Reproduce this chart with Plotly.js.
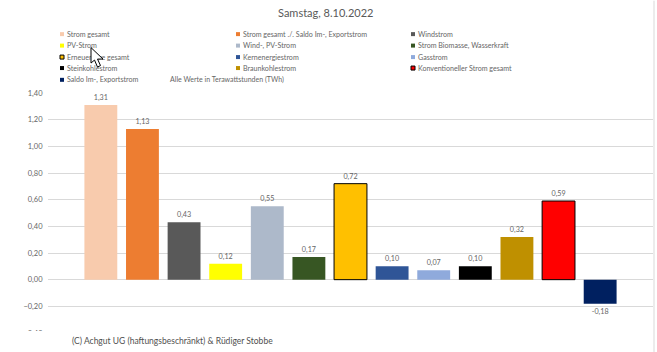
<!DOCTYPE html>
<html>
<head>
<meta charset="utf-8">
<script src="https://cdn.plot.ly/plotly-3.0.1.min.js"></script>
<style>html,body{margin:0;padding:0;background:#fff;overflow:hidden}#c{width:657px;height:352px}</style>
</head>
<body>
<div id="c"></div>
<script>
const categories = ["Strom gesamt","Strom gesamt ./. Saldo Im-, Exportstrom","Windstrom","PV-Strom","Wind-, PV-Strom","Strom Biomasse, Wasserkraft","Erneuerbare gesamt","Kernenergiestrom","Gasstrom","Steinkohlestrom","Braunkohlestrom","Konventioneller Strom gesamt","Saldo Im-, Exportstrom"];
const values = [1.31,1.13,0.43,0.12,0.55,0.17,0.72,0.10,0.07,0.10,0.32,0.59,-0.18];
const colors = ["#F8CBAD","#ED7D31","#595959","#FFFF00","#ADB9CA","#375623","#FFC000","#2F5597","#8FAADC","#000000","#BF9000","#FF0000","#002060"];
const outlined = [false,false,false,false,false,false,true,false,false,false,false,true,false];

const W=657,H=352,ML=48,MR=4,MT=92.5,MB=19;
const font="Lato, 'Open Sans', sans-serif";
const fx=x=>(x-ML)/(W-ML-MR), fy=y=>1-(y-MT)/(H-MT-MB);
const annotation=(x,y,text,size,color,anchor)=>({xref:'paper',yref:'paper',x:fx(x),y:fy(y),text,showarrow:false,xanchor:anchor||'left',yanchor:'middle',font:{family:font,size,color},borderpad:0,align:'left'});

const legendCols=[60,236,411], legendRows=[33.5,45,56.5,67.5,79.3];
const annotations=[], shapes=[];
categories.forEach((c,i)=>{
  const cx=legendCols[i%3], cy=legendRows[Math.floor(i/3)];
  shapes.push({type:'rect',xref:'paper',yref:'paper',x0:fx(cx),x1:fx(cx+4),y0:fy(cy+2),y1:fy(cy-2),fillcolor:colors[i],
    line:{color:'#000',width:outlined[i]?1:0}});
  annotations.push(annotation(cx+5.5,cy,c,7.1,'#666666'));
});
annotations.push(annotation(169,79.3,"Alle Werte in Terawattstunden (TWh)",7,'#666666'));
annotations.push(annotation(325.5,11.5,"Samstag, 8.10.2022",11,'#595959','center'));
annotations.push(annotation(71,341,"(C) Achgut UG (haftungsbeschränkt) &amp; Rüdiger Stobbe",8.5,'#505050'));

// white box that hides the lower left of the chart, and the window edge on the right
shapes.push({type:'rect',xref:'paper',yref:'paper',x0:fx(0),x1:fx(380),y0:fy(352),y1:fy(331),fillcolor:'#fff',line:{width:0},layer:'above'});
shapes.push({type:'line',xref:'paper',yref:'paper',x0:fx(654),x1:fx(654),y0:fy(0),y1:fy(352),line:{color:'#d9d9d9',width:1}});
// mouse pointer
const cur=[[91,47],[91,62.5],[94.5,59.5],[97.5,66.5],[100.5,65],[97.5,58.5],[103,58.5]];
shapes.push({type:'path',xref:'paper',yref:'paper',path:cur.map((p,i)=>(i?'L':'M')+fx(p[0])+','+fy(p[1])).join('')+'Z',fillcolor:'#fff',line:{color:'#000',width:1},layer:'above'});

Plotly.newPlot('c',[{
  type:'bar',x:categories,y:values,
  marker:{color:colors,line:{color:outlined.map(o=>o?'#000':'rgba(0,0,0,0)'),width:outlined.map(o=>o?1:0)}},
  texttemplate:'%{y:.2f}',textposition:'outside',cliponaxis:false,
  textfont:{family:font,size:7.2,color:'#666666'},hoverinfo:'skip'
}],{
  width:W,height:H,margin:{l:ML,r:MR,t:MT,b:MB,pad:0},
  paper_bgcolor:'#fff',plot_bgcolor:'#fff',showlegend:false,separators:',.',
  bargap:0.21,
  xaxis:{type:'category',range:[-1.27,13.27],showticklabels:false,showgrid:false,zeroline:false,ticks:''},
  yaxis:{range:[-0.4,1.4],tick0:-0.4,dtick:0.2,tickformat:'.2f',gridcolor:'#d9d9d9',gridwidth:1,zeroline:true,zerolinecolor:'#d9d9d9',zerolinewidth:1,
    ticks:'outside',ticklen:3,tickcolor:'rgba(0,0,0,0)',tickfont:{family:font,size:7.5,color:'#666666'},automargin:false},
  annotations,shapes
},{displayModeBar:false,staticPlot:true}).then(()=>{
  // the pointer sits on top of the legend text
  const gd=document.getElementById('c');
  const all=gd.querySelectorAll('.layer-above .shapelayer path');
  const info=gd.querySelector('.infolayer');
  if(all.length&&info) info.appendChild(all[all.length-1]);
});
</script>
</body>
</html>
